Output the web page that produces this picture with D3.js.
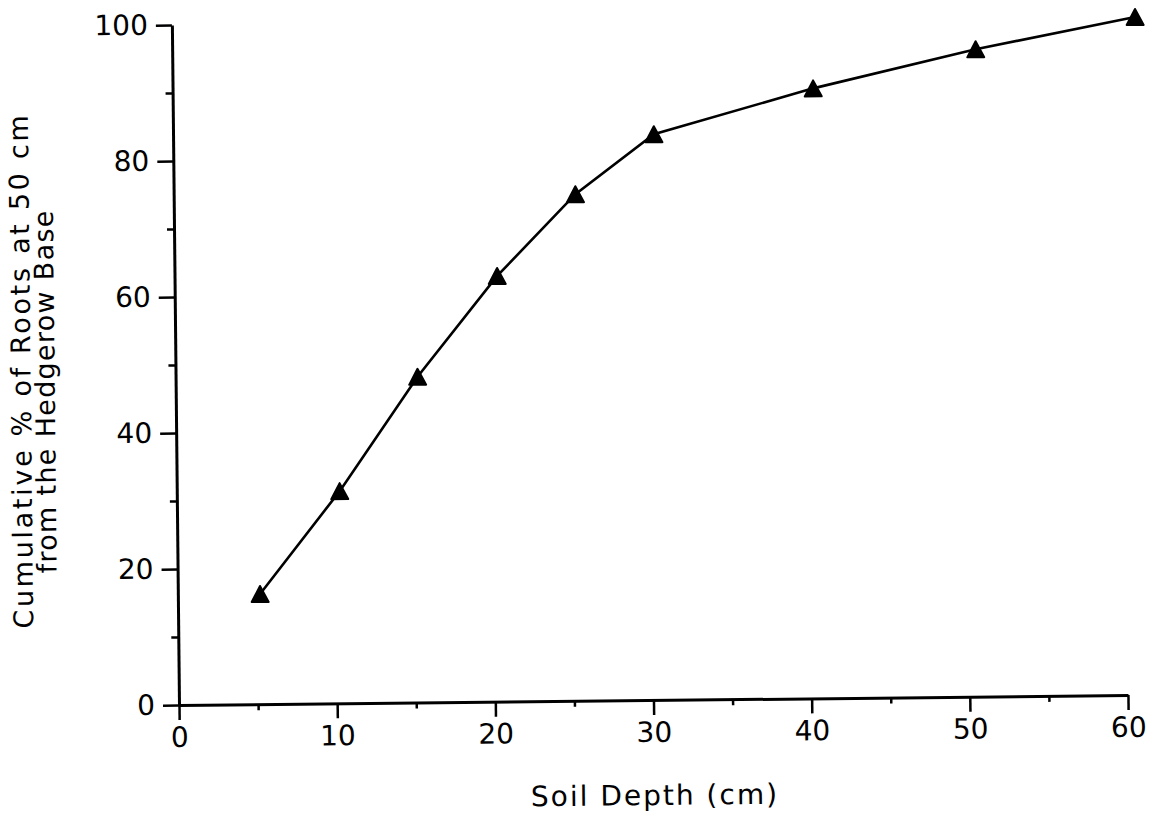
<!DOCTYPE html>
<html>
<head>
<meta charset="utf-8">
<script src="https://cdn.jsdelivr.net/npm/d3@7"></script>
<style>
  html, body { margin: 0; padding: 0; background: #fff; }
  svg { display: block; }
  text { font-family: "DejaVu Sans", sans-serif; fill: #000; }
</style>
</head>
<body>
<svg id="chart" width="1154" height="816"></svg>
<script>
// Cumulative root distribution with soil depth, 50 cm from the hedgerow base
const depth = [5.2, 10.3, 15.3, 20.4, 25.4, 30.4, 40.5, 50.8, 60.9];
const cumulative = [16.2, 31.2, 47.9, 62.6, 74.5, 83.2, 89.7, 95.2, 99.7];

const xMajorTicks = [0, 10, 20, 30, 40, 50, 60];
const xMinorTicks = [5, 15, 25, 35, 45, 55];
const yMajorTicks = [0, 20, 40, 60, 80, 100];
const yMinorTicks = [10, 30, 50, 70, 90];

const xTitle = "Soil Depth (cm)";
const yTitleLines = ["Cumulative % of Roots at 50 cm", "from the Hedgerow Base"];

(function draw() {
  const svg = d3.select("#chart");
  svg.append("rect").attr("width", 1154).attr("height", 816).attr("fill", "#fff");

  const plotLeft = 179, plotRight = 1128, plotTop = 25, plotBottom = 705;
  const x = d3.scaleLinear().domain([0, 60]).range([plotLeft, plotRight]);
  const y = d3.scaleLinear().domain([0, 100]).range([plotBottom, plotTop]);

  // whole plot sits slightly tilted on the page
  const g = svg.append("g").attr("transform", `rotate(-0.6, ${plotLeft}, ${plotBottom})`);

  function styleAxis(sel) {
    sel.selectAll(".domain").attr("stroke", "#000").attr("stroke-width", 3);
    sel.selectAll(".tick line").attr("stroke", "#000").attr("stroke-width", 2.5);
    sel.selectAll(".tick text").attr("font-size", 28).attr("fill", "#000")
      .attr("font-family", "DejaVu Sans, sans-serif");
  }

  // x axis: major ticks with labels, minor ticks without
  const xAxis = g.append("g").attr("transform", `translate(0,${plotBottom})`)
    .call(d3.axisBottom(x).tickValues(xMajorTicks).tickFormat(d3.format("d"))
      .tickSize(15).tickPadding(7).tickSizeOuter(0));
  styleAxis(xAxis);
  const xMinor = g.append("g").attr("transform", `translate(0,${plotBottom})`)
    .call(d3.axisBottom(x).tickValues(xMinorTicks).tickFormat("").tickSize(6).tickSizeOuter(0));
  styleAxis(xMinor);
  xMinor.select(".domain").remove();

  // y axis
  const yAxis = g.append("g").attr("transform", `translate(${plotLeft},0)`)
    .call(d3.axisLeft(y).tickValues(yMajorTicks).tickFormat(d3.format("d"))
      .tickSize(16).tickPadding(8).tickSizeOuter(0));
  styleAxis(yAxis);
  const yMinor = g.append("g").attr("transform", `translate(${plotLeft},0)`)
    .call(d3.axisLeft(y).tickValues(yMinorTicks).tickFormat("").tickSize(7).tickSizeOuter(0));
  styleAxis(yMinor);
  yMinor.select(".domain").remove();

  // data line
  const pts = depth.map((d, i) => [d, cumulative[i]]);
  g.append("path")
    .datum(pts)
    .attr("fill", "none")
    .attr("stroke", "#000")
    .attr("stroke-width", 2.6)
    .attr("d", d3.line().x(d => x(d[0])).y(d => y(d[1])));

  // filled triangle markers
  const tw = 17, th = 16;
  const tri = `M0,${-th / 2}L${tw / 2},${th / 2}L${-tw / 2},${th / 2}Z`;
  g.selectAll(".marker").data(pts).join("path")
    .attr("class", "marker")
    .attr("d", tri)
    .attr("transform", d => `translate(${x(d[0])},${y(d[1])})`)
    .attr("fill", "#000")
    .attr("stroke", "#000")
    .attr("stroke-width", 2)
    .attr("stroke-linejoin", "round");

  // axis titles
  g.append("text")
    .attr("x", 654).attr("y", 810)
    .attr("text-anchor", "middle")
    .attr("font-size", 28)
    .attr("letter-spacing", 2)
    .text(xTitle);

  const yTitlePos = [[34, 369], [58, 390]];
  const yTitleSpacing = [2.7, 1.3];
  yTitleLines.forEach((line, i) => {
    g.append("text")
      .attr("transform", `translate(${yTitlePos[i][0]},${yTitlePos[i][1]}) rotate(-90)`)
      .attr("text-anchor", "middle")
      .attr("font-size", 27)
      .attr("letter-spacing", yTitleSpacing[i])
      .text(line);
  });
})();
</script>
</body>
</html>
